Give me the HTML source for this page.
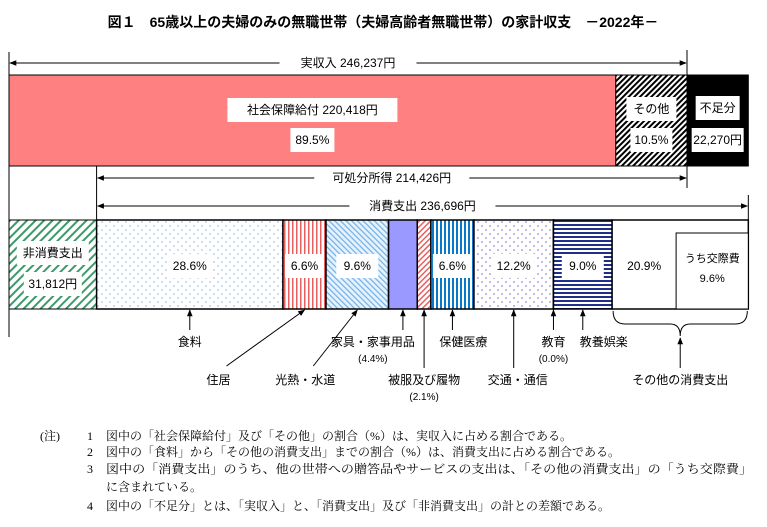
<!DOCTYPE html>
<html><head><meta charset="utf-8">
<style>
html,body{margin:0;padding:0;background:#fff;}
svg{display:block;}
text{font-family:"Liberation Sans","Noto Sans CJK JP",sans-serif;font-size:12px;fill:#000;}
.serif{font-family:"Liberation Serif","Noto Serif CJK SC",serif;}
</style></head>
<body>
<svg id="chart" width="767" height="527" viewBox="0 0 767 527" xmlns="http://www.w3.org/2000/svg">
<defs>
<pattern id="pHatchBW" width="4" height="4" patternUnits="userSpaceOnUse" patternTransform="rotate(45)"><rect width="4" height="4" fill="#fff"/><rect width="2" height="4" fill="#000"/></pattern>
<pattern id="pGreen" width="6" height="6" patternUnits="userSpaceOnUse" patternTransform="rotate(45)"><rect width="6" height="6" fill="#fff"/><rect width="2" height="6" fill="#3c9a6a"/></pattern>
<pattern id="pDotBlue" width="8" height="8" patternUnits="userSpaceOnUse"><rect width="8" height="8" fill="#fff"/><circle cx="2" cy="2" r="0.7" fill="#7aaee0"/><circle cx="6" cy="6" r="0.7" fill="#7aaee0"/></pattern>
<pattern id="pRedV" width="4" height="4" patternUnits="userSpaceOnUse"><rect width="4" height="4" fill="#fff"/><rect width="1.5" height="4" fill="#e86060"/></pattern>
<pattern id="pBlueDiag" width="4" height="4" patternUnits="userSpaceOnUse" patternTransform="rotate(-45)"><rect width="4" height="4" fill="#e6f2fc"/><rect width="1.2" height="4" fill="#6fb0e8"/></pattern>
<pattern id="pRedDiag" width="4" height="4" patternUnits="userSpaceOnUse" patternTransform="rotate(45)"><rect width="4" height="4" fill="#fff"/><rect width="1.5" height="4" fill="#e86060"/></pattern>
<pattern id="pBlueV" width="4" height="4" patternUnits="userSpaceOnUse"><rect width="4" height="4" fill="#fff"/><rect width="2" height="4" fill="#0a78c8"/></pattern>
<pattern id="pPurpleDot" width="8" height="8" patternUnits="userSpaceOnUse"><rect width="8" height="8" fill="#fff"/><circle cx="2" cy="2" r="0.9" fill="#9a8ae0"/><circle cx="6" cy="6" r="0.9" fill="#9a8ae0"/></pattern>
<pattern id="pNavyH" width="4" height="4" patternUnits="userSpaceOnUse"><rect width="4" height="4" fill="#fff"/><rect width="4" height="2" fill="#1f2f8a"/></pattern>
<marker id="ah" viewBox="0 0 10 10" refX="9" refY="5" markerWidth="7" markerHeight="7" orient="auto-start-reverse"><path d="M0,1 L10,5 L0,9 z" fill="#000"/></marker>
</defs>
<text x="383" y="27" text-anchor="middle" font-weight="bold" style="font-size:14px">図１　65歳以上の夫婦のみの無職世帯（夫婦高齢者無職世帯）の家計収支　－2022年－</text>
<g id="g"></g>
<g class="serif">
<text class="serif" x="40" y="440">(注)</text>
<text class="serif" x="87" y="440">1</text><text class="serif" x="106" y="440">図中の「社会保障給付」及び「その他」の割合（%）は、実収入に占める割合である。</text>
<text class="serif" x="87" y="456">2</text><text class="serif" x="106" y="456">図中の「食料」から「その他の消費支出」までの割合（%）は、消費支出に占める割合である。</text>
<text class="serif" x="87" y="473">3</text><text class="serif" x="106" y="473" textLength="646" lengthAdjust="spacingAndGlyphs">図中の「消費支出」のうち、他の世帯への贈答品やサービスの支出は、「その他の消費支出」の「うち交際費」</text>
<text class="serif" x="106" y="491">に含まれている。</text>
<text class="serif" x="87" y="510">4</text><text class="serif" x="106" y="510">図中の「不足分」とは、「実収入」と、「消費支出」及び「非消費支出」の計との差額である。</text>
</g>
</svg>
<script>
const incomeNames = ["社会保障給付", "その他"];
const incomePct = [89.5, 10.5];
const incomeTotal = 246237;
const socialAmount = 220418;
const deficit = 22270;
const disposable = 214426;
const nonConsumption = 31812;
const consumption = 236696;
const catNames = ["食料","住居","光熱・水道","家具・家事用品","被服及び履物","保健医療","交通・通信","教育","教養娯楽","その他の消費支出"];
const catPct = [28.6, 6.6, 9.6, 4.4, 2.1, 6.6, 12.2, 0.0, 9.0, 20.9];
const socialExpPct = 9.6;

const NS = "http://www.w3.org/2000/svg";
const g = document.getElementById("g");
const X0 = 9, INC_W = 678;
const sx = v => X0 + v * INC_W / incomeTotal;
function el(tag, a, parent) {
  const e = document.createElementNS(NS, tag);
  for (const k in a) e.setAttribute(k, a[k]);
  (parent || g).appendChild(e);
  return e;
}
function txt(x, y, s, anchor, size, bold) {
  const t = el("text", {x: x, y: y, "text-anchor": anchor || "middle"});
  if (size) t.style.fontSize = size + "px";
  if (bold) t.setAttribute("font-weight", "bold");
  t.textContent = s;
  return t;
}
function fmt(n) { return n.toLocaleString("en-US"); }
function arrowSpan(x1, x2, y, label, name) {
  const tw = label.length * 9 + 20;
  const cx = (x1 + x2) / 2;
  const l1 = el("line", {x1: cx - tw/2, y1: y, x2: x1 + 1, y2: y, stroke: "#000", "marker-end": "url(#ah)"});
  
  
  const l2 = el("line", {x1: cx + tw/2, y1: y, x2: x2 - 1, y2: y, stroke: "#000", "marker-end": "url(#ah)"});
  
  
  const t = txt(cx, y + 4, label);
  
  
}
function boxText(cx, cy, s, w, fill, name) {
  const r = el("rect", {x: cx - w/2, y: cy - 12, width: w, height: 24, fill: fill || "#fff"});
  
  
  const t = txt(cx, cy + 4, s);
  
  
  return t;
}
function vline(x, y1, y2, name) {
  const l = el("line", {x1: x, y1: y1, x2: x, y2: y2, stroke: "#000"});
  
  
}

// guide lines
const xInc = sx(incomeTotal);
const xNC = sx(nonConsumption);
const xCons = sx(nonConsumption + consumption);
const xDef = sx(incomeTotal + deficit);
vline(X0, 52, 337, "left-guide-line");
vline(xInc, 50, 188, "income-end-guide-line");
vline(xNC, 166, 220, "nonconsumption-guide-line");
vline(xCons, 195, 220, "consumption-end-guide-line");

arrowSpan(X0, xInc, 63, "実収入  " + fmt(incomeTotal) + "円", "income-span");
arrowSpan(xNC, xInc, 178, "可処分所得  " + fmt(disposable) + "円", "disposable-span");
arrowSpan(xNC, xCons, 206, "消費支出  " + fmt(consumption) + "円", "consumption-span");

// top bar
const TY = 75, TH = 91;
const xSocial = sx(incomeTotal * incomePct[0] / 100);
const r1 = el("rect", {x: X0, y: TY, width: xSocial - X0, height: TH, fill: "#ff8080", stroke: "#000"});


const r2 = el("rect", {x: xSocial, y: TY, width: xInc - xSocial, height: TH, fill: "url(#pHatchBW)", stroke: "#000"});


const r3 = el("rect", {x: xInc, y: TY, width: xDef - xInc, height: TH, fill: "#000", stroke: "#000"});


const cS = (X0 + xSocial) / 2;
boxText(cS, 110, incomeNames[0] + "  " + fmt(socialAmount) + "円", 170, "#fff", "social-security");
boxText(cS, 140, incomePct[0].toFixed(1) + "%", 44, "#fff", "social-security-pct");
const cO = (xSocial + xInc) / 2;
boxText(cO, 109, incomeNames[1], 50, "#fff", "other-income");
boxText(cO, 140, incomePct[1].toFixed(1) + "%", 42, "#fff", "other-income-pct");
const cD = (xInc + xDef) / 2;
boxText(cD, 108, "不足分", 44, "#fff", "deficit");
boxText(cD, 140, fmt(deficit) + "円", 52, "#fff", "deficit-amount");

// bottom bar
const BY = 220, BH = 89;
const rn = el("rect", {x: X0, y: BY, width: xNC - X0, height: BH, fill: "url(#pGreen)", stroke: "#000"});


boxText((X0 + xNC)/2, 253, "非消費支出", 72, "#fff", "nonconsumption");
boxText((X0 + xNC)/2, 284, fmt(nonConsumption) + "円", 58, "#fff", "nonconsumption-amount");

const fills = ["url(#pDotBlue)","url(#pRedV)","url(#pBlueDiag)","#9999ff","url(#pRedDiag)","url(#pBlueV)","url(#pPurpleDot)","#fff","url(#pNavyH)","#fff"];
const showPct = [true,true,true,false,false,true,true,false,true,true];
const consW = xCons - xNC;
let acc = 0;
const segs = [];
catPct.forEach((p, i) => {
  const x = xNC + consW * acc / 100;
  const w = consW * p / 100;
  acc += p;
  segs.push({x: x, w: w});
  const r = el("rect", {x: x, y: BY, width: Math.max(w, 0.01), height: BH, fill: fills[i], stroke: "#000", "stroke-width": 1.5});
  
  
});
catPct.forEach((p, i) => {
  if (!showPct[i]) return;
  const s = segs[i];
  let cx = s.x + s.w / 2;
  if (i === catPct.length - 1) cx = s.x + 32;
  const lab = p.toFixed(1) + "%";
  const t = boxText(cx, 266, lab, Math.min(s.w - 4, 42), "#fff", "pct-" + catNames[i]);
});
// うち交際費
const oth = segs[catPct.length - 1];
const bx = oth.x + 64;
const rb = el("rect", {x: bx, y: 233, width: xCons - bx, height: 76, fill: "#fff", stroke: "#000"});


const t1 = txt((bx + xCons)/2, 262, "うち交際費", "middle", 11);


const t2 = txt((bx + xCons)/2, 282, socialExpPct.toFixed(1) + "%", "middle", 11);



// category callouts: [labelCx offset from segment center, labelY, pctLabel]
const callY = [342, 380, 380, 342, 380, 342, 380, 342, 342, 380];
const callDx = [0, -86, -52, -30, 0, 11, 4, 0, 21, 0];
const subPct = [false,false,false,true,true,false,false,true,false,false];
catPct.forEach((p, i) => {
  if (i === catPct.length - 1) return;
  const s = segs[i];
  const mx = s.x + s.w / 2;
  const ly = callY[i];
  const lx = mx + callDx[i];
  let ax = mx, ay = ly - 12;
  if (i === 1 || i === 2) { ax = lx + 8; ay = ly - 14; }
  if (i === 3) { ax = mx; }
  const l = el("line", {x1: ax, y1: ay, x2: mx, y2: BY + BH + 1, stroke: "#000", "marker-end": "url(#ah)"});
  
  
  const t = txt(lx, ly + 4, catNames[i]);
  
  
  if (subPct[i]) {
    const t3 = txt(lx, ly + 20, "(" + p.toFixed(1) + "%)", "middle", 10);
    
    
  }
});
// brace for other consumption
const bL = oth.x + 1, bR = xCons - 1, bC = (bL + bR) / 2;
const br = el("path", {d: `M${bL},311 Q${bL},324 ${bL+12},324 L${bC-10},324 Q${bC},324 ${bC},336 Q${bC},324 ${bC+10},324 L${bR-12},324 Q${bR},324 ${bR},311`, fill: "none", stroke: "#000"});


const la = el("line", {x1: bC, y1: 368, x2: bC, y2: 338, stroke: "#000", "marker-end": "url(#ah)"});


const lt = txt(bC, 384, catNames[catNames.length - 1]);


</script>
</body></html>
